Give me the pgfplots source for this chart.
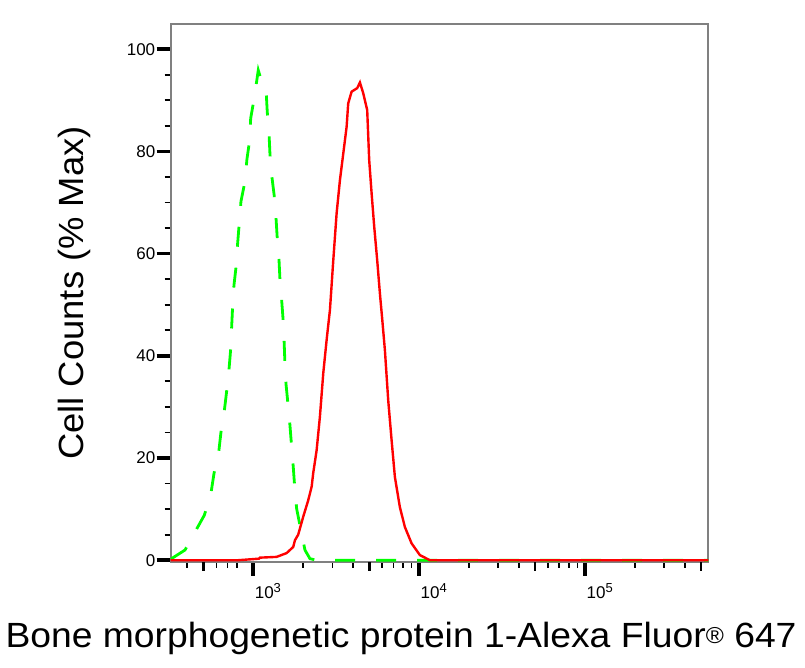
\documentclass[border=0pt]{standalone}
\usepackage{pgfplots}
\pgfplotsset{compat=1.18}
\usepackage{fontspec}
\setmainfont{Liberation Sans}

\definecolor{flowgreen}{RGB}{0,255,0}
\definecolor{flowred}{RGB}{255,0,0}
\newcommand{\tickfont}{\fontsize{17}{19}\selectfont}
\newcommand{\labelfont}{\fontsize{35}{40}\selectfont}
\newcommand{\decade}[1]{\tickfont 10\raisebox{6pt}{\fontsize{13}{13}\selectfont #1}}

\begin{document}
\begin{tikzpicture}
\path[use as bounding box] (0,0) rectangle (805pt,668pt);
\begin{axis}[at={(170.7pt,106pt)},anchor=south west,
  scale only axis,width=537.6pt,height=538pt,
  xmode=log,log basis x=10,xmin=318,xmax=553000,
  ymin=-0.35,ymax=104.95,
  xtick={1000,10000,100000},
  xticklabels={\decade{3},\decade{4},\decade{5}},
  minor xtick={400,600,700,800,2000,3000,4000,6000,7000,8000,9000,20000,30000,40000,60000,70000,80000,90000,200000,300000,400000},
  extra x ticks={500,5000,50000,500000},extra x tick labels={},
  extra x tick style={major tick length=9pt,every major tick/.append style={black,line width=2.6pt}},
  ytick={0,20,40,60,80,100},minor y tick num=3,
  yticklabel={\tickfont\pgfmathprintnumber{\tick}},
  xtick pos=bottom,ytick pos=left,tick align=outside,
  major tick length=14pt,minor tick length=6pt,
  every major tick/.append style={black,line width=3.6pt},
  every minor tick/.append style={black,line width=1.8pt},
  axis line style={gray,line width=2pt},
  /pgf/number format/assume math mode=true,
  yticklabel style={xshift=2pt},
  xticklabel style={anchor=north west,xshift=-2pt,yshift=-4pt},
  xlabel={\scalebox{1.065}[1]{Bone morphogenetic protein 1-Alexa Fluor{\fontsize{23}{23}\selectfont\raisebox{4pt}{®}} 647}},
  ylabel={\scalebox{1.04}[1]{Cell Counts (\% Max)}},
  xlabel style={at={([xshift=-38.5pt,yshift=-86pt]axis description cs:0.5,0)},anchor=base,font=\labelfont},
  ylabel style={at={([xshift=-87.5pt]axis description cs:0,0.5)},anchor=base,font=\labelfont},
]
% isotype control
\addplot[flowgreen,line width=2.8pt,dash pattern=on 20pt off 21pt] coordinates {
(318,0.2) (388,2.0) (445,5.5) (507,8.8) (556,13.1) (580,17.0) (619,21.1)
(639,25.1) (669,29.2) (692,33.2) (714,37.3) (731,41.3) (741,45.7) (751,49.6)
(765,53.8) (790,57.8) (805,62.0) (823,65.9) (843,70.2) (891,74.1) (916,78.5)
(951,82.2) (965,86.5) (1014,90.5) (1072,95.9) (1123,93.7) (1193,92.4)
(1214,87.8) (1243,83.9) (1261,79.4) (1291,75.4) (1338,71.3) (1370,67.2)
(1395,63.0) (1428,59.1) (1449,54.8) (1483,50.9) (1516,46.7) (1536,42.5)
(1552,38.5) (1574,34.6) (1625,30.0) (1664,26.4) (1703,22.2) (1742,18.3)
(1783,13.7) (1826,10.1) (1957,5.2) (2049,2.0) (2196,0.3) (2400,0) (553000,0)
};
% stained sample
\addplot[flowred,line width=2.4pt] coordinates {
(318,0) (812,0) (1082,0.3) (1097,0.5) (1383,0.65) (1590,1.4) (1742,2.6)
(1783,3.9) (1866,5.0) (2000,8.5) (2143,11.7) (2249,14.4) (2297,17.0)
(2409,21.5) (2522,28.1) (2642,36.6) (2768,43.1) (2899,49.0) (3036,58.7)
(3180,67.9) (3330,74.4) (3488,79.6) (3653,84.8) (3735,89.4) (3915,91.7)
(4232,92.4) (4394,93.5) (4601,91.4) (4861,88.1) (4998,78.3) (5168,71.8)
(5358,65.3) (5585,58.7) (5799,52.2) (5984,47.3) (6215,41.1) (6508,31.3)
(6820,23.5) (7138,16.3) (7650,10.4) (8200,6.5) (9000,3.3) (10100,1.0)
(11600,0) (553000,0)
};
\end{axis}
\end{tikzpicture}
\end{document}
